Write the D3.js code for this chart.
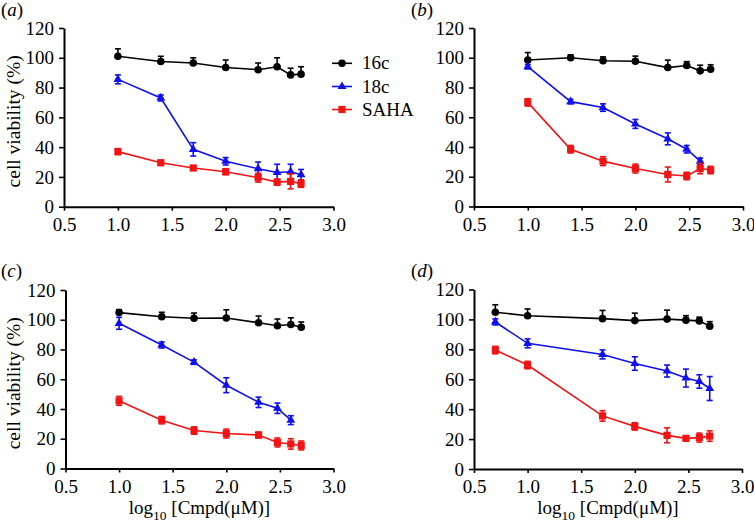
<!DOCTYPE html>
<html>
<head>
<meta charset="utf-8">
<script src="https://cdn.jsdelivr.net/npm/d3@7"></script>
<style>
  html, body { margin: 0; padding: 0; background: #fff; }
  svg { display: block; }
  text { font-family: "Liberation Serif", "Times New Roman", serif; fill: #000; }
</style>
</head>
<body>
<svg id="chart" width="754" height="528"></svg>
<script>
// ---------- DATA ----------
const seriesNames = ["16c", "18c", "SAHA"];
const xTicks = [0.5, 1.0, 1.5, 2.0, 2.5, 3.0];
const yTicks = [0, 20, 40, 60, 80, 100, 120];

const xStd = [1.0, 1.398, 1.699, 2.0, 2.301, 2.477, 2.602, 2.699];
const xStd7 = [1.0, 1.398, 1.699, 2.0, 2.301, 2.477, 2.602];
const xD = [0.699, 1.0, 1.699, 2.0, 2.301, 2.477, 2.602, 2.699];

// panel (a)
const a16 = [101, 97.5, 96.5, 93.5, 92, 94, 88.5, 89];
const a16err = [5, 3.5, 3.5, 5, 4.5, 6, 4.5, 5];
const a18 = [85.5, 73, 38.5, 30.5, 25.5, 23, 23.5, 21.5];
const a18err = [3, 2, 4.5, 2.5, 4.5, 5.5, 5, 3.5];
const aSAHA = [37, 29.5, 26, 23.5, 19.5, 16.5, 17, 15.5];
const aSAHAerr = [2, 1.5, 1.5, 2, 3, 2, 5, 2.5];

// panel (b)
const b16 = [98.5, 100, 98, 97.6, 93.4, 94.8, 91.2, 92.3];
const b16err = [5, 2, 2.6, 3.5, 5, 2.6, 3.8, 3];
const b18 = [94, 70.5, 66.5, 55.5, 45.5, 38.5, 30.5];
const b18err = [1.5, 1.5, 2.5, 3, 4, 2.5, 2];
const bSAHA = [70, 38.5, 30.5, 25.5, 21.5, 20.5, 25.5, 24.5];
const bSAHAerr = [2.5, 2.5, 3, 3, 5, 2.5, 3.5, 2.5];

// panel (c)
const c16 = [104.8, 102, 101, 101.2, 98, 96, 96.8, 95];
const c16err = [2, 3, 3.5, 5.5, 4.5, 4.5, 4.5, 3.5];
const c18 = [97.6, 83, 71.5, 56, 44.5, 40.5, 32.5];
const c18err = [4, 2, 1.5, 5, 3.5, 3.5, 3];
const cSAHA = [45.5, 32.5, 25.5, 23.5, 22.5, 17.5, 16.5, 15.5];
const cSAHAerr = [3, 2.5, 2.5, 3, 2, 3, 3.5, 3];

// panel (d)
const d16 = [104.8, 102.5, 100.5, 99.2, 100.2, 99.5, 99, 95.5];
const d16err = [5, 4.5, 5.5, 5, 6, 3, 2.5, 3];
const d18 = [98.3, 84, 76.6, 70.5, 65.5, 60.8, 58.5, 53.8];
const d18err = [2, 3, 3, 4.5, 4, 6, 4.5, 8];
const dSAHA = [79.5, 69.5, 35.5, 28.5, 22.5, 20.5, 21, 22];
const dSAHAerr = [2.5, 2.5, 3.5, 2.5, 5, 1.5, 3, 3.5];

const panelLabels = ["a", "b", "c", "d"];

// ---------- LAYOUT / STYLE ----------
const colors = { "16c": "#000000", "18c": "#1010ee", "SAHA": "#f01414" };
const FONT = 19;

const panels = [
  { label: "a", xr: [64, 333.5], yr: [206.7, 28], yTitle: true, xTitle: false,
    series: [
      { name: "16c", x: xStd, y: a16, e: a16err },
      { name: "18c", x: xStd, y: a18, e: a18err },
      { name: "SAHA", x: xStd, y: aSAHA, e: aSAHAerr } ] },
  { label: "b", xr: [474, 743], yr: [206.5, 28], yTitle: false, xTitle: false,
    series: [
      { name: "16c", x: xStd, y: b16, e: b16err },
      { name: "18c", x: xStd7, y: b18, e: b18err },
      { name: "SAHA", x: xStd, y: bSAHA, e: bSAHAerr } ] },
  { label: "c", xr: [65.5, 333.5], yr: [468.5, 290], yTitle: true, xTitle: true,
    series: [
      { name: "16c", x: xStd, y: c16, e: c16err },
      { name: "18c", x: xStd7, y: c18, e: c18err },
      { name: "SAHA", x: xStd, y: cSAHA, e: cSAHAerr } ] },
  { label: "d", xr: [474, 742], yr: [469, 289.5], yTitle: false, xTitle: true,
    series: [
      { name: "16c", x: xD, y: d16, e: d16err },
      { name: "18c", x: xD, y: d18, e: d18err },
      { name: "SAHA", x: xD, y: dSAHA, e: dSAHAerr } ] }
];

const svg = d3.select("#chart");

function drawMarker(g, name, cx, cy) {
  const c = colors[name];
  if (name === "16c") {
    g.append("circle").attr("cx", cx).attr("cy", cy).attr("r", 3.8).attr("fill", c);
  } else if (name === "18c") {
    const s = d3.symbol().type(d3.symbolTriangle).size(34);
    g.append("path").attr("d", s()).attr("transform", `translate(${cx},${cy})`).attr("fill", c);
  } else {
    g.append("rect").attr("x", cx - 3.6).attr("y", cy - 3.6).attr("width", 7.2).attr("height", 7.2).attr("fill", c);
  }
}

panels.forEach((p, pi) => {
  const x = d3.scaleLinear().domain([0.5, 3.0]).range(p.xr);
  const y = d3.scaleLinear().domain([0, 120]).range(p.yr);
  const g = svg.append("g");

  // axes
  const yAxis = d3.axisLeft(y).tickValues(yTicks).tickSize(5).tickSizeOuter(0).tickPadding(5).tickFormat(d3.format("d"));
  const xAxis = d3.axisBottom(x).tickValues(xTicks).tickSize(4).tickSizeOuter(0).tickPadding(7).tickFormat(d3.format(".1f"));
  const ya = g.append("g").attr("transform", `translate(${p.xr[0]},0)`).call(yAxis);
  const xa = g.append("g").attr("transform", `translate(0,${p.yr[0]})`).call(xAxis);
  [ya, xa].forEach(a => {
    a.selectAll("path.domain").attr("stroke", "#000").attr("stroke-width", 2);
    a.selectAll(".tick line").attr("stroke", "#000").attr("stroke-width", 1.6);
    a.selectAll(".tick text").style("font-family", '"Liberation Serif", "Times New Roman", serif').style("font-size", FONT + "px").attr("fill", "#000");
  });

  // panel label
  const lab = g.append("text")
    .attr("x", pi % 2 === 0 ? 1 : 411)
    .attr("y", pi < 2 ? 16 : 277)
    .style("font-size", FONT + "px");
  lab.append("tspan").text("(");
  lab.append("tspan").style("font-style", "italic").text(p.label);
  lab.append("tspan").text(")");

  // y title
  if (p.yTitle) {
    const cy = (p.yr[0] + p.yr[1]) / 2 + 4;
    g.append("text")
      .attr("transform", `translate(20,${cy}) rotate(-90)`)
      .attr("text-anchor", "middle")
      .style("font-size", "19.5px")
      .text("cell viability (%)");
  }
  // x title
  if (p.xTitle) {
    const cx = (p.xr[0] + p.xr[1]) / 2;
    const t = g.append("text")
      .attr("x", cx).attr("y", p.yr[0] + 45)
      .attr("text-anchor", "middle")
      .style("font-size", FONT + "px");
    t.append("tspan").text("log");
    t.append("tspan").attr("dy", 6).style("font-size", "13.5px").text("10");
    t.append("tspan").attr("dy", -6).text(" [Cmpd(μM)]");
  }

  // series
  p.series.forEach(s => {
    const c = colors[s.name];
    const pts = s.x.map((xv, i) => ({ x: xv, y: s.y[i], e: s.e[i] }));
    const sg = g.append("g");
    sg.append("path")
      .datum(pts)
      .attr("fill", "none")
      .attr("stroke", c)
      .attr("stroke-width", 1.6)
      .attr("d", d3.line().x(d => x(d.x)).y(d => y(d.y)));
    const down = s.name !== "16c";
    pts.forEach(d => {
      const cx = x(d.x);
      const yTop = y(d.y + d.e), yBot = down ? y(d.y - d.e) : y(d.y);
      sg.append("line").attr("x1", cx).attr("x2", cx).attr("y1", yTop).attr("y2", yBot)
        .attr("stroke", c).attr("stroke-width", 1.6);
      sg.append("line").attr("x1", cx - 3).attr("x2", cx + 3).attr("y1", yTop).attr("y2", yTop)
        .attr("stroke", c).attr("stroke-width", 1.6);
      if (down) {
        sg.append("line").attr("x1", cx - 3).attr("x2", cx + 3).attr("y1", yBot).attr("y2", yBot)
          .attr("stroke", c).attr("stroke-width", 1.6);
      }
    });
    pts.forEach(d => drawMarker(sg, s.name, x(d.x), y(d.y)));
  });
});

// legend (next to panel a)
const legendY = [63.3, 86.5, 109.5];
const lg = svg.append("g");
seriesNames.forEach((n, i) => {
  const yy = legendY[i];
  lg.append("line").attr("x1", 332).attr("x2", 352).attr("y1", yy).attr("y2", yy)
    .attr("stroke", colors[n]).attr("stroke-width", 1.6);
  drawMarker(lg, n, 342, yy);
  lg.append("text").attr("x", 362).attr("y", yy + 6).style("font-size", FONT + "px").text(n);
});
</script>
</body>
</html>
